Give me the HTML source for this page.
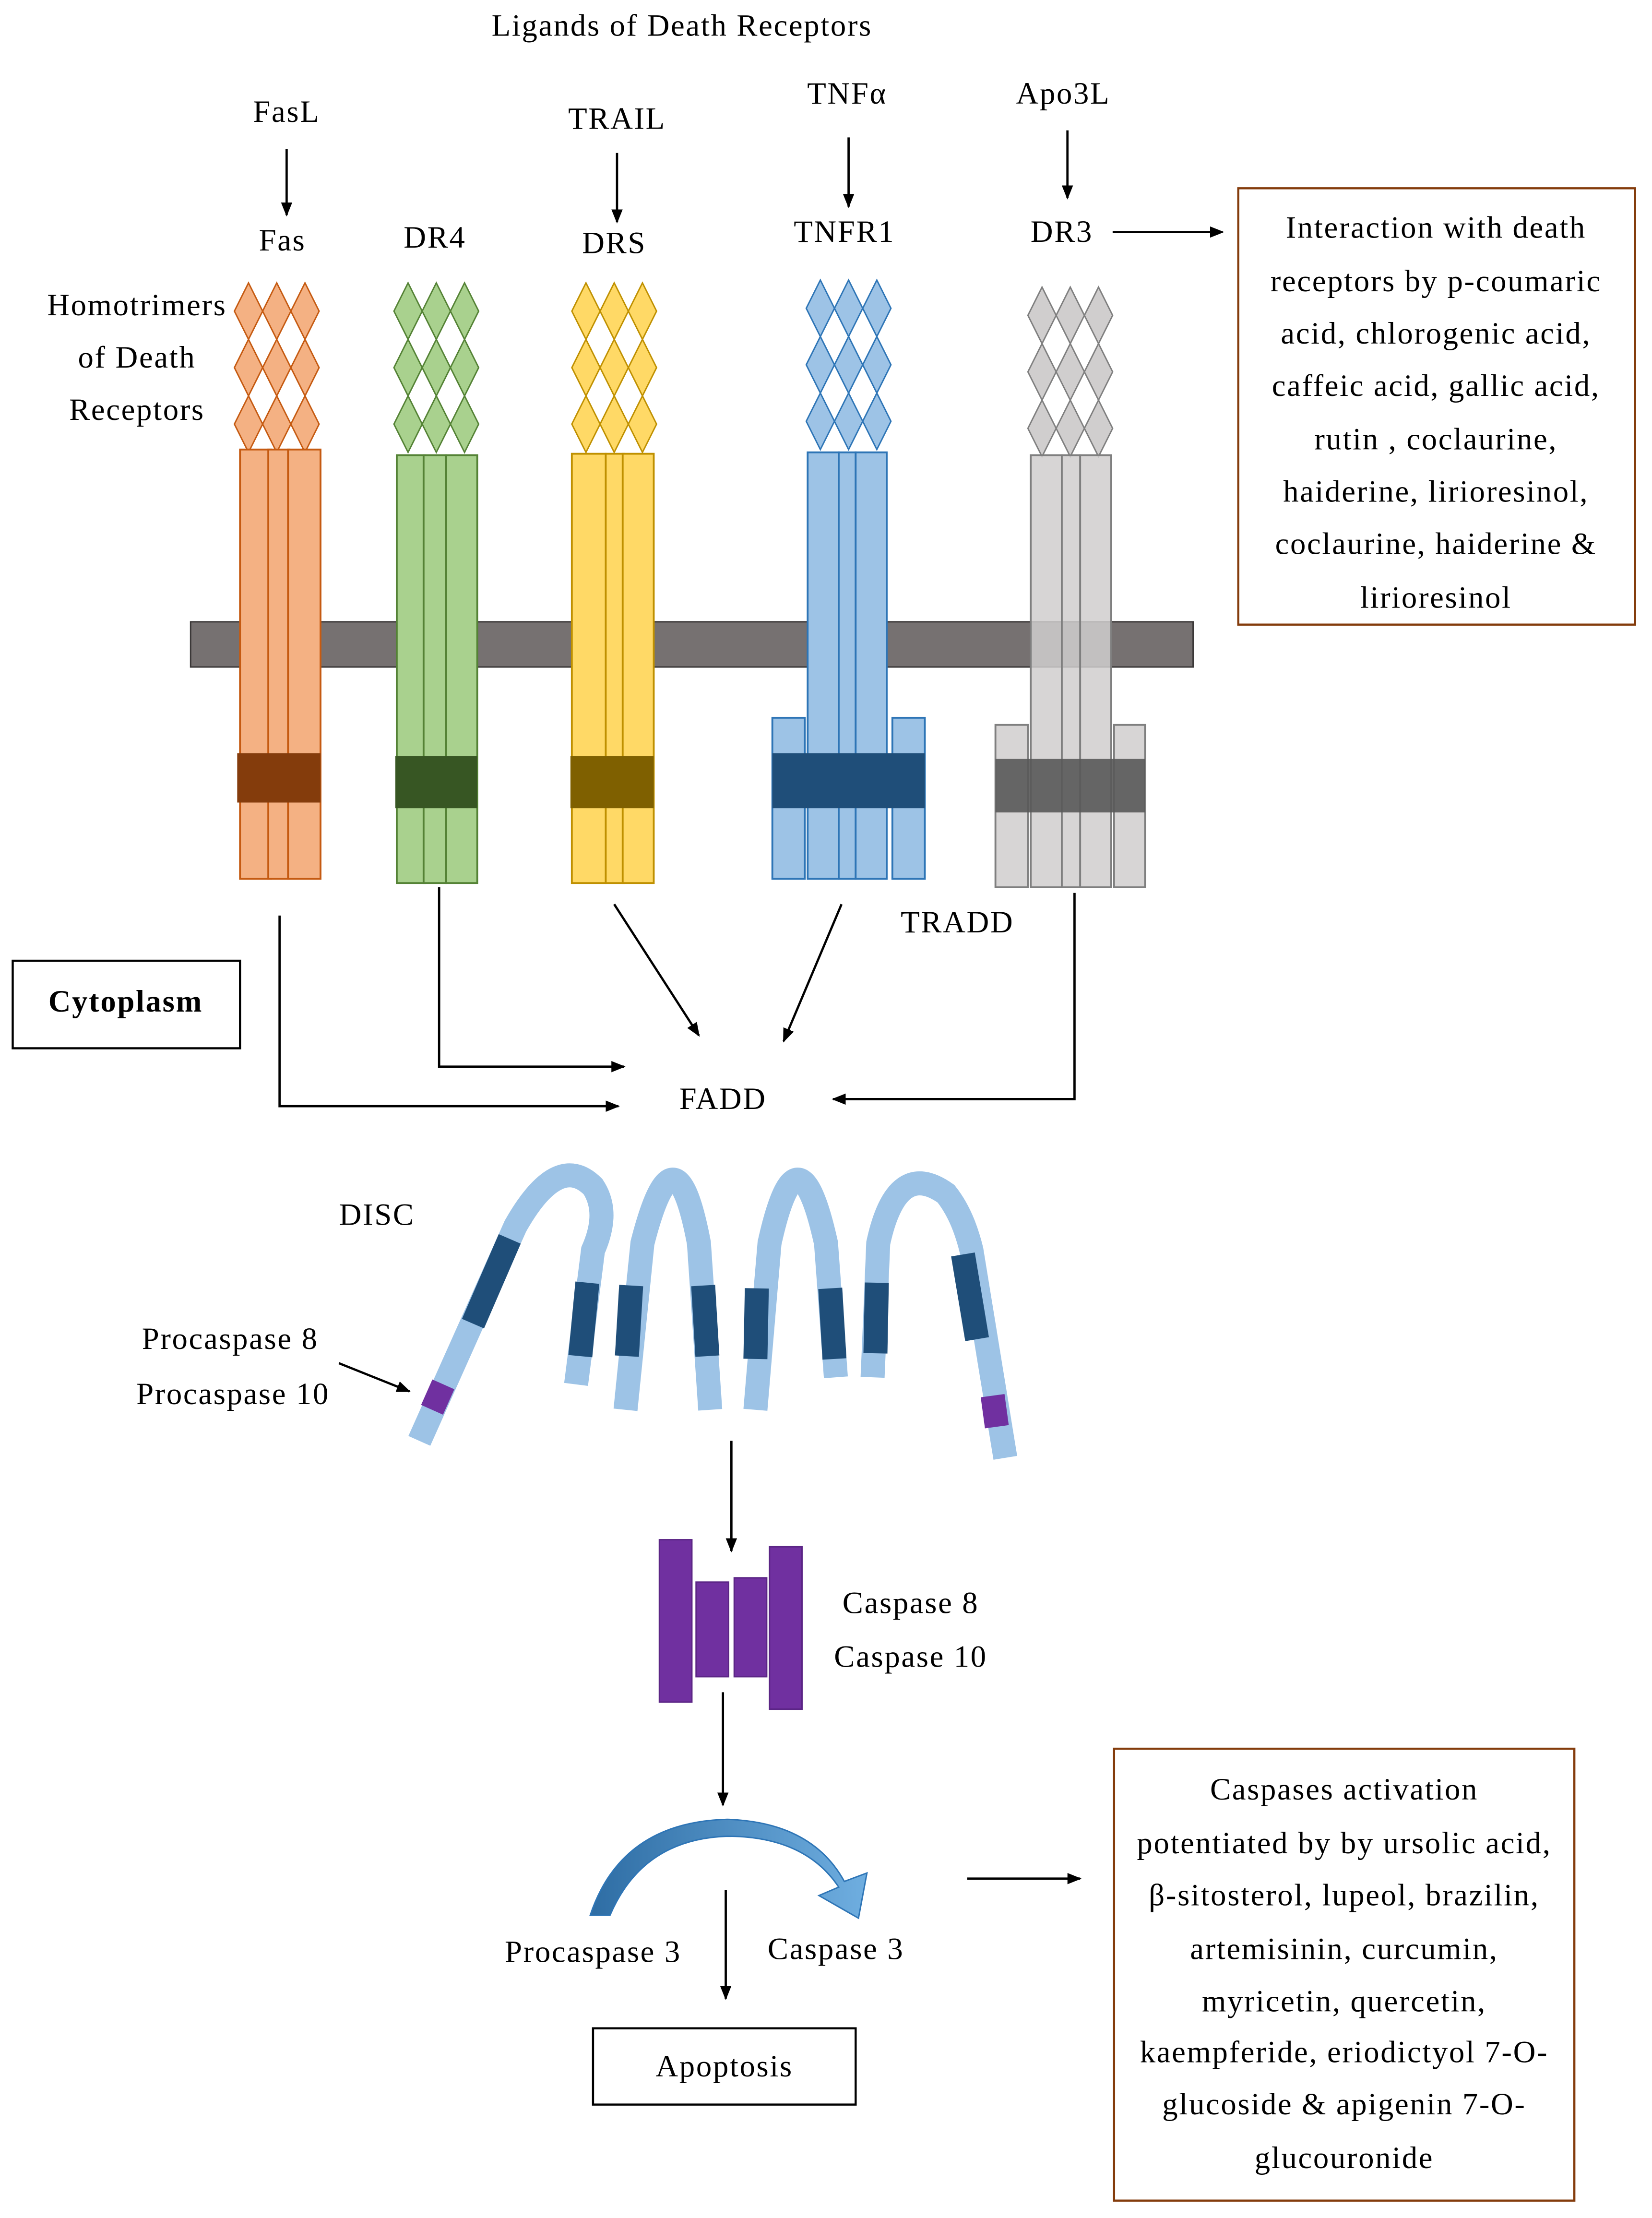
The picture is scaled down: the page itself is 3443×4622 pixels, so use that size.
<!DOCTYPE html>
<html><head><meta charset="utf-8"><style>html,body{margin:0;padding:0;background:#fff}svg{display:block}text{font-family:"Liberation Serif",serif;font-size:22px;letter-spacing:0.9px;fill:#000}</style></head>
<body>
<svg width="3443" height="4622" viewBox="0 0 1170 1570" xmlns="http://www.w3.org/2000/svg">
<defs>
<marker id="ah" markerWidth="10" markerHeight="10" refX="9" refY="5" orient="auto" markerUnits="userSpaceOnUse"><path d="M0,1 L10,5 L0,9 z" fill="#000"/></marker>
<linearGradient id="cg" x1="0" x2="1"><stop offset="0" stop-color="#2E6DA4"/><stop offset="1" stop-color="#6FAEE0"/></linearGradient>
</defs>
<rect width="1170" height="1570" fill="#fff"/>
<text x="483" y="25" text-anchor="middle">Ligands of Death Receptors</text>
<g text-anchor="middle">
<text x="203" y="86">FasL</text><text x="200" y="177">Fas</text>
<text x="308" y="175">DR4</text>
<text x="437" y="91">TRAIL</text><text x="435" y="179">DRS</text>
<text x="600" y="73">TNFα</text><text x="598" y="171">TNFR1</text>
<text x="753" y="73">Apo3L</text><text x="752" y="171">DR3</text>
<text x="97" y="223">Homotrimers</text><text x="97" y="260">of Death</text><text x="97" y="297">Receptors</text>
<text x="678" y="660">TRADD</text>
<text x="512" y="785">FADD</text>
<text x="267" y="867">DISC</text>
<text x="163" y="955">Procaspase 8</text><text x="165" y="994">Procaspase 10</text>
<text x="645" y="1142">Caspase 8</text><text x="645" y="1180">Caspase 10</text>
<text x="420" y="1389">Procaspase 3</text><text x="592" y="1387">Caspase 3</text>
</g>
<g stroke="#000" stroke-width="1.6" fill="none" marker-end="url(#ah)">
<line x1="203" y1="105" x2="203" y2="152"/>
<line x1="437" y1="108" x2="437" y2="157"/>
<line x1="601" y1="97" x2="601" y2="146"/>
<line x1="756" y1="92" x2="756" y2="140"/>
<line x1="788" y1="164" x2="866" y2="164"/>
<polyline points="198,648 198,783 438,783"/>
<polyline points="311,628 311,755 442,755"/>
<line x1="435" y1="640" x2="495" y2="733"/>
<line x1="596" y1="640" x2="555" y2="737"/>
<polyline points="761,632 761,778 590,778"/>
<line x1="240" y1="965" x2="290" y2="985"/>
<line x1="518" y1="1020" x2="518" y2="1098"/>
<line x1="512" y1="1198" x2="512" y2="1278"/>
<line x1="514" y1="1338" x2="514" y2="1415"/>
<line x1="685" y1="1330" x2="765" y2="1330"/>
</g>
<rect x="877" y="133" width="281" height="309" fill="none" stroke="#843C0C" stroke-width="1.5"/>
<g text-anchor="middle" style="font-size:21px">
<text x="1017" y="168">Interaction with death</text><text x="1017" y="206">receptors by p-coumaric</text><text x="1017" y="243">acid, chlorogenic acid,</text><text x="1017" y="280">caffeic acid, gallic acid,</text><text x="1017" y="318">rutin , coclaurine,</text><text x="1017" y="355">haiderine, lirioresinol,</text><text x="1017" y="392">coclaurine, haiderine &amp;</text><text x="1017" y="430">lirioresinol</text>
</g>
<rect x="789" y="1238" width="326" height="320" fill="none" stroke="#843C0C" stroke-width="1.5"/>
<g text-anchor="middle" style="font-size:21px">
<text x="952" y="1274">Caspases activation</text><text x="952" y="1312">potentiated by by ursolic acid,</text><text x="952" y="1349">β-sitosterol, lupeol, brazilin,</text><text x="952" y="1387">artemisinin, curcumin,</text><text x="952" y="1424">myricetin, quercetin,</text><text x="952" y="1460">kaempferide, eriodictyol 7-O-</text><text x="952" y="1497">glucoside &amp; apigenin 7-O-</text><text x="952" y="1535">glucouronide</text>
</g>
<rect x="9" y="680" width="161" height="62" fill="none" stroke="#000" stroke-width="1.5"/>
<text x="89" y="716" text-anchor="middle" font-weight="bold">Cytoplasm</text>
<rect x="420" y="1436" width="186" height="54" fill="none" stroke="#000" stroke-width="1.5"/>
<text x="513" y="1470" text-anchor="middle">Apoptosis</text>
<g stroke-width="1">
<g fill="#F4B183" stroke="#C55A11">
<path d="M176,200l10,20l-10,20l-10,-20z M176,240l10,20l-10,20l-10,-20z M176,280l10,20l-10,20l-10,-20z M196,200l10,20l-10,20l-10,-20z M196,240l10,20l-10,20l-10,-20z M196,280l10,20l-10,20l-10,-20z M216,200l10,20l-10,20l-10,-20z M216,240l10,20l-10,20l-10,-20z M216,280l10,20l-10,20l-10,-20z"/></g>
<g fill="#A9D18E" stroke="#548235">
<path d="M289,200l10,20l-10,20l-10,-20z M289,240l10,20l-10,20l-10,-20z M289,280l10,20l-10,20l-10,-20z M309,200l10,20l-10,20l-10,-20z M309,240l10,20l-10,20l-10,-20z M309,280l10,20l-10,20l-10,-20z M329,200l10,20l-10,20l-10,-20z M329,240l10,20l-10,20l-10,-20z M329,280l10,20l-10,20l-10,-20z"/></g>
<g fill="#FFD966" stroke="#BF9000">
<path d="M415,200l10,20l-10,20l-10,-20z M415,240l10,20l-10,20l-10,-20z M415,280l10,20l-10,20l-10,-20z M435,200l10,20l-10,20l-10,-20z M435,240l10,20l-10,20l-10,-20z M435,280l10,20l-10,20l-10,-20z M455,200l10,20l-10,20l-10,-20z M455,240l10,20l-10,20l-10,-20z M455,280l10,20l-10,20l-10,-20z"/></g>
<g fill="#9DC3E6" stroke="#2E75B6">
<path d="M581,198l10,20l-10,20l-10,-20z M581,238l10,20l-10,20l-10,-20z M581,278l10,20l-10,20l-10,-20z M601,198l10,20l-10,20l-10,-20z M601,238l10,20l-10,20l-10,-20z M601,278l10,20l-10,20l-10,-20z M621,198l10,20l-10,20l-10,-20z M621,238l10,20l-10,20l-10,-20z M621,278l10,20l-10,20l-10,-20z"/></g>
<g fill="#D0CECE" stroke="#7F7F7F">
<path d="M738,203l10,20l-10,20l-10,-20z M738,243l10,20l-10,20l-10,-20z M738,283l10,20l-10,20l-10,-20z M758,203l10,20l-10,20l-10,-20z M758,243l10,20l-10,20l-10,-20z M758,283l10,20l-10,20l-10,-20z M778,203l10,20l-10,20l-10,-20z M778,243l10,20l-10,20l-10,-20z M778,283l10,20l-10,20l-10,-20z"/></g>
</g>
<rect x="135" y="440" width="710" height="32" fill="#767171" stroke="#3B3838" stroke-width="1"/>
<g stroke-width="1.3">
<g fill="#F4B183" stroke="#C55A11"><rect x="170" y="318" width="22" height="304"/><rect x="190" y="318" width="15" height="304"/><rect x="204" y="318" width="23" height="304"/></g>
<rect x="168" y="533" width="59" height="35" fill="#843C0C"/>
<g fill="#A9D18E" stroke="#548235"><rect x="281" y="322" width="20" height="303"/><rect x="300" y="322" width="16" height="303"/><rect x="316" y="322" width="22" height="303"/></g>
<rect x="280" y="535" width="58" height="37" fill="#375623"/>
<g fill="#FFD966" stroke="#BF9000"><rect x="405" y="321" width="24" height="304"/><rect x="429" y="321" width="13" height="304"/><rect x="441" y="321" width="22" height="304"/></g>
<rect x="404" y="535" width="59" height="37" fill="#7F6000"/>
<g fill="#9DC3E6" stroke="#2E75B6"><rect x="547" y="508" width="23" height="114"/><rect x="632" y="508" width="23" height="114"/><rect x="572" y="320" width="22" height="302"/><rect x="594" y="320" width="12" height="302"/><rect x="606" y="320" width="22" height="302"/></g>
<rect x="547" y="533" width="108" height="39" fill="#1F4E79"/>
<g fill="#D0CECE" fill-opacity="0.85" stroke="#7F7F7F"><rect x="705" y="513" width="23" height="115"/><rect x="789" y="513" width="22" height="115"/><rect x="730" y="322" width="22" height="306"/><rect x="752" y="322" width="13" height="306"/><rect x="765" y="322" width="22" height="306"/></g>
<rect x="705" y="537" width="106" height="38" fill="#595959" fill-opacity="0.9"/>
</g>
<g fill="none" stroke="#9DC3E6" stroke-width="17">
<path d="M297,1020 L365,868 Q395,815 420,840 Q432,858 420,885 L408,980"/>
<path d="M443,998 L455,880 Q478,790 495,880 L503,998"/>
<path d="M535,998 L545,880 Q565,790 585,880 L592,975"/>
<path d="M618,975 L622,880 Q635,820 670,845 Q682,860 688,885 L712,1032"/>
</g>
<g fill="none" stroke="#1F4E79" stroke-width="17">
<line x1="361" y1="877" x2="335" y2="937"/>
<line x1="416" y1="908" x2="411" y2="960"/>
<line x1="447" y1="910" x2="444" y2="960"/>
<line x1="498" y1="910" x2="501" y2="960"/>
<line x1="536" y1="912" x2="535" y2="962"/>
<line x1="588" y1="912" x2="591" y2="962"/>
<line x1="621" y1="908" x2="620" y2="958"/>
<line x1="682" y1="888" x2="692" y2="948"/>
</g>
<g fill="none" stroke="#7030A0" stroke-width="17">
<line x1="314" y1="980" x2="306" y2="998"/>
<line x1="703" y1="988" x2="706" y2="1010"/>
</g>
<g fill="#7030A0" stroke="#5B2585" stroke-width="1">
<rect x="467" y="1090" width="23" height="115"/><rect x="493" y="1120" width="23" height="67"/><rect x="520" y="1117" width="23" height="70"/><rect x="545" y="1095" width="23" height="115"/>
</g>
<path d="M418,1356 Q440,1290 515,1288 Q575,1290 598,1332 L614,1326 L608,1358 L580,1342 L594,1336 Q570,1300 515,1300 Q455,1302 432,1356 z" fill="url(#cg)" stroke="#2E75B6" stroke-width="1"/>
</svg>
</body></html>
